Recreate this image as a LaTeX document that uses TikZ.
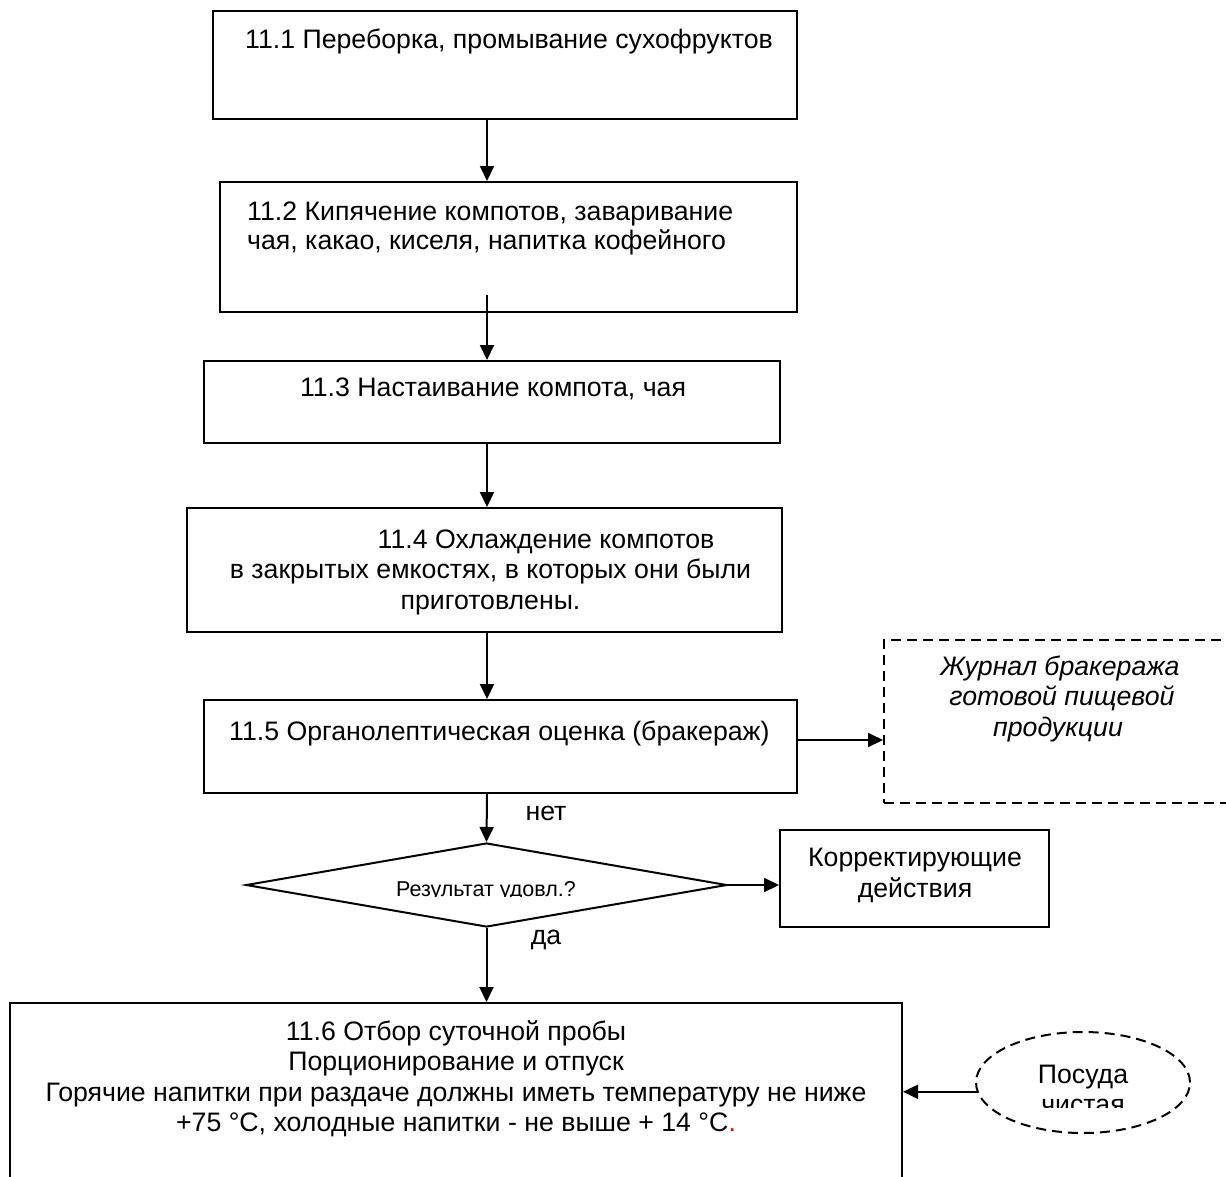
\documentclass[tikz,border=0pt]{standalone}
\usepackage{fontspec}
\setmainfont{Liberation Sans}
\usetikzlibrary{arrows.meta,shapes.geometric}
\begin{document}
\begin{tikzpicture}[x=1pt,y=-1pt,
  box/.style={draw,line width=2pt,rectangle,inner sep=0pt},
  dbox/.style={draw,line width=2pt,rectangle,inner sep=0pt,dash pattern=on 10pt off 6pt},
  txt/.style={font=\fontsize{26.7}{30.5}\selectfont,inner sep=0pt,anchor=base},
  txtw/.style={font=\fontsize{26.7}{30.5}\selectfont,inner sep=0pt,anchor=base west},
  itxt/.style={font=\fontsize{26.7}{30.5}\selectfont\itshape,inner sep=0pt,anchor=base},
  arr/.style={line width=2pt,-{Triangle[length=15pt,width=14pt]}}]
\useasboundingbox (0,0) rectangle (1226,1176);
\fill[white] (0,0) rectangle (1226,1176);
% boxes
\node[box,minimum width=584pt,minimum height=108pt] (b1) at (505,65) {};
\node[box,minimum width=577pt,minimum height=130pt] (b2) at (508.5,247) {};
\node[box,minimum width=576pt,minimum height=82pt] (b3) at (492,402) {};
\node[box,minimum width=595pt,minimum height=124pt] (b4) at (484.5,570) {};
\node[box,minimum width=593pt,minimum height=93pt] (b5) at (500.5,746.5) {};
\node[dbox,minimum width=351pt,minimum height=163pt] (jr) at (1059.5,721.5) {};
\node[draw,line width=2pt,diamond,inner sep=0pt,minimum width=481pt,minimum height=84pt] (dm) at (486.5,885) {};
\node[box,minimum width=269pt,minimum height=97pt] (kr) at (914.5,878.5) {};
\node[box,minimum width=892pt,minimum height=182pt] (b6) at (456,1094) {};
\node[draw,line width=2pt,ellipse,inner sep=0pt,dash pattern=on 10pt off 6pt,minimum width=214pt,minimum height=101pt] (ps) at (1083,1082.5) {};
% texts
\node[txtw] (t1) at (245,48) {11.1 Переборка, промывание сухофруктов};
\node[txtw] (t2a) at (247,220) {11.2 Кипячение компотов, заваривание};
\node[txtw] (t2b) at (247,249) {чая, какао, киселя, напитка кофейного};
\node[txt] (t3) at (493,396) {11.3 Настаивание компота, чая};
\node[txt] (t4a) at (546,548) {11.4 Охлаждение компотов};
\node[txt] (t4b) at (490.5,578) {в закрытых емкостях, в которых они были};
\node[txt] (t4c) at (490.5,609) {приготовлены.};
\node[txtw] (t5) at (229,740) {11.5 Органолептическая оценка (бракераж)};
\node[itxt] (j1) at (1060,675) {Журнал бракеража};
\node[itxt] (j2) at (1062,705.5) {готовой пищевой};
\node[itxt] (j3) at (1058,736) {продукции};
\node[txt] (net) at (546,820) {нет};
\node[txt] (da) at (546,944) {да};
\begin{scope}
\clip (0,0) rectangle (1226,896);
\node[font=\fontsize{21.5}{25}\selectfont,inner sep=0pt,anchor=base] (dt) at (486,896) {Результат удовл.?};
\end{scope}
\node[txt] (k1) at (915,866) {Корректирующие};
\node[txt] (k2) at (915,897) {действия};
\node[txt] (s1) at (456,1040) {11.6 Отбор суточной пробы};
\node[txt] (s2) at (456,1070.5) {Порционирование и отпуск};
\node[txt] (s3) at (456,1101) {Горячие напитки при раздаче должны иметь температуру не ниже};
\node[txt] (s4) at (456,1131.5) {+75 °С, холодные напитки - не выше + 14 °С{\color{red}.}};
\node[txt] (p1) at (1083,1083) {Посуда};
\begin{scope}
\clip (0,0) rectangle (1226,1107);
\node[txt] (p2) at (1083,1113.5) {чистая};
\end{scope}
% connectors
\coordinate (col) at (487,0);
\coordinate (s2c) at (487,295);
\coordinate (r5) at (0,740);
\draw[arr] (b1.south -| col) -- (b2.north -| col);
\draw[arr] (s2c) -- (b3.north -| col);
\draw[arr] (b3.south -| col) -- (b4.north -| col);
\draw[arr] (b4.south -| col) -- (b5.north -| col);
\draw[arr] (b5.east |- r5) -- (jr.west |- r5);
\draw[arr] (b5.south -| col) -- (dm.north);
\draw[arr] (dm.east) -- (dm.east -| kr.west);
\draw[arr] (dm.south) -- (b6.north -| dm.south);
\draw[arr] (ps.185) -- (ps.185 -| b6.east);
\end{tikzpicture}
\end{document}
